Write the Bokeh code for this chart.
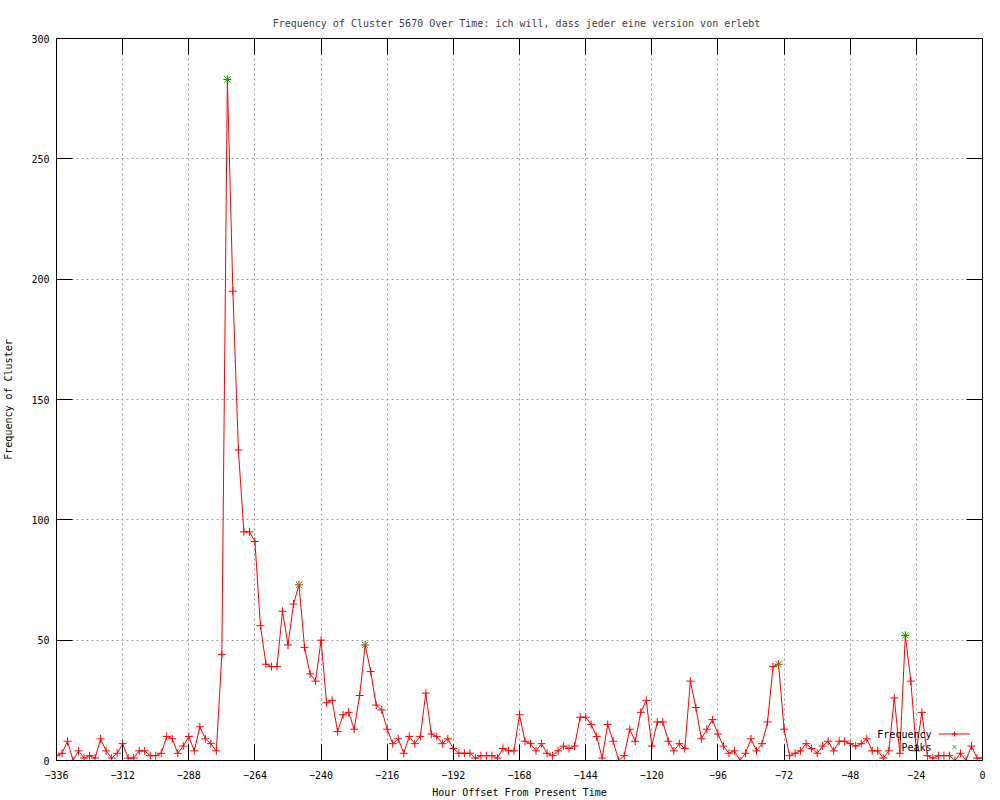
from bokeh.plotting import figure
from bokeh.models import Range1d, FixedTicker, LinearAxis, Legend, LegendItem, Label
from bokeh.embed import file_html
from bokeh.resources import INLINE
from bokeh.core.properties import value

TITLE = "Frequency of Cluster 5670 Over Time: ich will, dass jeder eine version von  erlebt"
X_LABEL = "Hour Offset From Present Time"
Y_LABEL = "Frequency of Cluster"

hours = list(range(-336, 1, 2))
frequency = [
    2, 3, 8, 0, 4, 1, 2, 1, 9, 4,          # -336 .. -318
    1, 3, 7, 1, 1, 4, 4, 2, 2, 3,          # -316 .. -298
    10, 9, 3, 6, 10, 4, 14, 9, 7, 4,       # -296 .. -278
    44, 283, 195, 129, 95, 95, 91, 56, 40, 39,   # -276 .. -258
    39, 62, 48, 65, 73, 47, 36, 33, 50, 24,      # -256 .. -238
    25, 12, 19, 20, 13, 27, 48, 37, 23, 21,      # -236 .. -218
    13, 7, 9, 3, 10, 7, 10, 28, 11, 10,    # -216 .. -198
    7, 9, 5, 3, 3, 3, 1, 2, 2, 2,          # -196 .. -178
    1, 5, 4, 4, 19, 8, 7, 4, 7, 3,         # -176 .. -158
    2, 4, 6, 5, 6, 18, 18, 15, 10, 1,      # -156 .. -138
    15, 8, 0, 2, 13, 8, 20, 25, 6, 16,     # -136 .. -118
    16, 8, 4, 7, 5, 33, 22, 9, 13, 17,     # -116 .. -98
    11, 6, 3, 4, 0, 3, 9, 4, 7, 16,        # -96 .. -78
    39, 40, 13, 2, 3, 4, 7, 5, 3, 6,       # -76 .. -58
    8, 4, 8, 8, 7, 6, 7, 9, 4, 4,          # -56 .. -38
    1, 4, 26, 3, 52, 33, 4, 20, 2, 1,      # -36 .. -18
    2, 2, 2, 0, 3, 0, 6, 1, 1,             # -16 .. 0
]

peak_hours = [-274, -248, -224, -74, -28]
peak_values = [283, 73, 48, 40, 52]

x_ticks = [-336, -312, -288, -264, -240, -216, -192, -168, -144, -120, -96, -72, -48, -24, 0]
y_ticks = [0, 50, 100, 150, 200, 250, 300]

FONT = "DejaVu Sans Mono"
FS = "10px"

p = figure(width=992, height=800, output_backend="svg", toolbar_location=None,
           x_range=Range1d(-336, 0), y_range=Range1d(0, 300),
           min_border_left=55, min_border_right=10, min_border_top=38, min_border_bottom=40,
           title=TITLE)
p.background_fill_color = "white"
p.border_fill_color = "white"
p.outline_line_color = "black"
p.outline_line_width = 1

p.title.text_font = FONT
p.title.text_font_size = FS
p.title.text_font_style = "normal"
p.title.align = "center"
p.title.standoff = 20

for ax, ticks in ((p.xaxis[0], x_ticks), (p.yaxis[0], y_ticks)):
    ax.ticker = FixedTicker(ticks=ticks)
    ax.major_tick_in = 16
    ax.major_tick_out = 0
    ax.minor_tick_in = 0
    ax.minor_tick_out = 0
    ax.axis_line_color = "black"
    ax.major_tick_line_color = "black"
    ax.major_label_text_font = FONT
    ax.major_label_text_font_size = FS
    ax.major_label_text_color = "black"
    ax.axis_label_text_font = FONT
    ax.axis_label_text_font_size = FS
    ax.axis_label_text_font_style = "normal"
    ax.axis_label_text_color = "black"

p.xaxis[0].axis_label = X_LABEL
p.xaxis[0].major_label_standoff = 10
p.xaxis[0].axis_label_standoff = 5
p.yaxis[0].axis_label = Y_LABEL
p.yaxis[0].major_label_standoff = 7
p.yaxis[0].axis_label_standoff = 14

for side, ticks in (("right", y_ticks), ("above", x_ticks)):
    ax = LinearAxis(ticker=FixedTicker(ticks=ticks),
                    major_label_overrides={t: "" for t in ticks},
                    major_tick_in=16, major_tick_out=0,
                    minor_tick_in=0, minor_tick_out=0,
                    major_label_standoff=0,
                    axis_line_color="black", major_tick_line_color="black")
    p.add_layout(ax, side)

for g, ticks in ((p.xgrid[0], x_ticks), (p.ygrid[0], y_ticks)):
    g.ticker = FixedTicker(ticks=ticks)
    g.grid_line_color = "#a0a0a0"
    g.grid_line_dash = "2 3"
    g.grid_line_width = 1

r_line = p.line(hours, frequency, line_color="red", line_width=1)
r_pts = p.scatter(hours, frequency, marker="cross", size=8, line_color="red", line_width=1)
r_peaks = p.scatter(peak_hours, peak_values, marker="x", size=9, line_color="#00c000", line_width=1)

legend = Legend(items=[LegendItem(label=value(" "), renderers=[r_line, r_pts]),
                       LegendItem(label=value(" "), renderers=[r_peaks])],
                location=(882, 7), glyph_width=32, glyph_height=13, label_height=13,
                label_width=1, label_standoff=0, padding=0, margin=0, spacing=0,
                border_line_color=None, background_fill_alpha=0,
                label_text_font_size="1px")
p.add_layout(legend)

for txt, yy in (("Frequency", 26), ("Peaks", 13)):
    p.add_layout(Label(x=875, y=yy, x_units="screen", y_units="screen", text=txt,
                       text_align="right", text_baseline="middle",
                       text_font=FONT, text_font_size=FS, text_color="black"))

open("out.html", "w").write(file_html(p, INLINE))
